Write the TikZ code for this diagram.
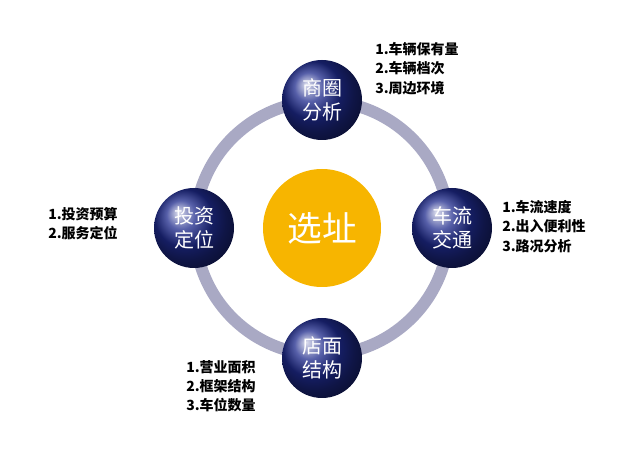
\documentclass[tikz,border=0pt]{standalone}
\usepackage{fontspec}
\newfontfamily\cjk{Noto Sans CJK SC}
\definecolor{ringgray}{HTML}{A9A9C4}
\definecolor{ballblue}{HTML}{1E2A8C}
\definecolor{ballgold}{HTML}{F7B500}
\usepackage{tikz}
\begin{document}
\begin{tikzpicture}[x=0.75pt,y=-0.75pt]

\tikzstyle{ball}=[
	circle,
	minimum size=80*0.75pt,
	inner sep=0pt,
	align=center,
	ball color=ballblue,
	text=white,
	font=\cjk\fontsize{15}{18}\selectfont
]
\tikzstyle{core}=[
	circle,
	minimum size=118*0.75pt,
	inner sep=0pt,
	fill=ballgold,
	text=white,
	font=\cjk\fontsize{26}{30}\selectfont
]
\tikzstyle{lst}=[
	align=left,
	anchor=north west,
	inner sep=0pt,
	font=\cjk\bfseries\fontsize{10.5}{14.5}\selectfont
]

\useasboundingbox (0,0) rectangle (633,466);

\coordinate (mid) at (322,228);
\draw[ringgray, line width=9] (mid) circle[radius=127];

\node[core] (site) at (mid) {选址};

\node[ball] (shop) at (322,100) {商圈\\分析};
\node[ball] (road) at (452,228) {车流\\交通};
\node[ball] (store) at (322,358) {店面\\结构};
\node[ball] (fund) at (194,228) {投资\\定位};

\node[lst] (shoptxt) at (375,42) {1.车辆保有量\\2.车辆档次\\3.周边环境};
\node[lst] (roadtxt) at (502,200) {1.车流速度\\2.出入便利性\\3.路况分析};
\node[lst] (storetxt) at (186,360) {1.营业面积\\2.框架结构\\3.车位数量};
\node[lst] (fundtxt) at (48,207) {1.投资预算\\2.服务定位};

\end{tikzpicture}
\end{document}
